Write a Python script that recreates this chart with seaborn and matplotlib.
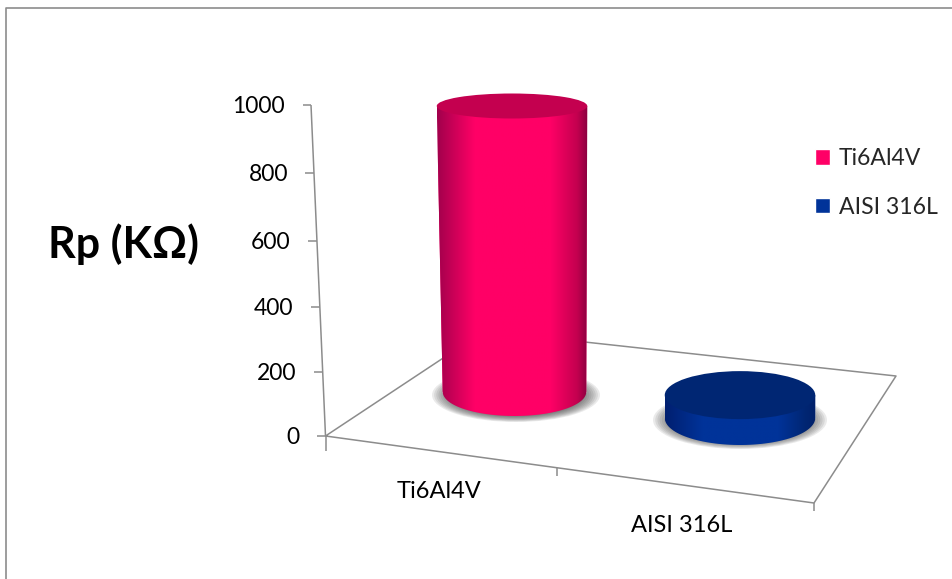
import numpy as np
import pandas as pd
import matplotlib.pyplot as plt
import seaborn as sns
from matplotlib.colors import LinearSegmentedColormap
from matplotlib.patches import Ellipse, PathPatch
from matplotlib.path import Path
from matplotlib.transforms import Affine2D

# values
categories = ['Ti6Al4V', 'AISI 316L']
rp_values = [1000, 80]
y_ticks = [0, 200, 400, 600, 800, 1000]

colors = ['#FF0066', '#003399']
top_colors = ['#C4004F', '#002673']
edge_left = ['#A2004C', '#001F70']
edge_right = ['#8A0040', '#00206A']
grid_color = '#8C8C8C'

W, H = 953, 579

sns.set_theme(style='white')
plt.rcParams['font.family'] = ['Lato', 'DejaVu Sans']

fig = plt.figure(figsize=(W / 100, H / 100), dpi=100)
ax = fig.add_axes([0, 0, 1, 1])

data = pd.DataFrame({'material': categories, 'rp': rp_values})
sns.barplot(data=data, x='material', y='rp', hue='material', palette=colors,
            saturation=1, width=0.66, ax=ax, legend=True, zorder=3)

# the whole figure is one axes, limits put the bars at the right pixels
x_first, x_step = 512, 228
y_base, y_scale = 392, 0.286
ax.set_xlim((0 - x_first) / x_step, (W - x_first) / x_step)
ax.set_ylim((y_base - H) / y_scale, y_base / y_scale)
ax.axis('off')

# pixel coordinates, y going down, for the fake 3D parts
px = Affine2D().scale(1, -1).translate(0, H)


def line(xs, ys, lw=1.1):
    ax.plot(xs, ys, color=grid_color, lw=lw, transform=px, zorder=1, solid_capstyle='butt')


# outer frame
line([6, 6, W], [H, 8, 8], lw=1.2)

# floor
corners_x = [325.5, 484, 896, 814, 325.5]
corners_y = [436, 331, 376, 503, 436]
line(corners_x, corners_y)
line([557, 557], [468, 476])
line([326, 326], [436, 451])
line([814, 814], [503, 511])


# y axis, slightly tilted and in perspective
def axis_point(v):
    t = v / 1000
    return 325.5 - 14.5 * t, 436 - 317 * t - 14 * t ** 2


top_x, top_y = axis_point(1000)
low_x, low_y = axis_point(0)
line([low_x, top_x], [low_y, top_y])
for v in y_ticks:
    tx, ty = axis_point(v)
    line([tx - 8.5, tx], [ty, ty])
    ax.text(tx - 26, ty + 1.5, str(v), transform=px, ha='right', va='center',
            fontsize=16.5, color='black')

ax.text(123, 244, 'Rp (KΩ)', transform=px, ha='center', va='center',
        fontsize=31, fontweight='bold', color='black')
ax.text(439, 492, categories[0], transform=px, ha='center', va='center', fontsize=17, color='black')
ax.text(682, 526, categories[1], transform=px, ha='center', va='center', fontsize=17, color='black')

# cylinder shapes for each bar
base_px = [392, 418]
top_semi = [12.5, 24]
base_semi = [24, 27]
inset_left = [6, 0]
inset_right = [1, 0]
shadow = [(516, 395, 84, 27), (740, 420, 87, 29)]

to_px = ax.transData + px.inverted()

for i, bar in enumerate(ax.patches[:2]):
    # bars stand on different places of the floor
    bar.set_y((y_base - base_px[i]) / y_scale)
    x0, y1 = to_px.transform((bar.get_x(), bar.get_y() + bar.get_height()))
    x1, y0 = to_px.transform((bar.get_x() + bar.get_width(), bar.get_y()))

    # soft shadow on the floor
    sx, sy, sa, sb = shadow[i]
    for k in np.linspace(1, 0.72, 12):
        ax.add_patch(Ellipse((sx, sy), 2 * sa * k, 2 * sb * k, transform=px,
                             fc='#383838', ec='none', alpha=0.1, zorder=2))

    # body outline, straight sides and lower half of the base ellipse
    bl, br = x0 + inset_left[i], x1 - inset_right[i]
    t = np.linspace(np.pi, 0, 60)
    arc_x = (bl + br) / 2 + (br - bl) / 2 * np.cos(t)
    arc_y = y0 + base_semi[i] * np.sin(t)
    verts = [(x0, y1)] + list(zip(arc_x, arc_y)) + [(x1, y1), (x0, y1)]
    body = PathPatch(Path(verts), transform=px, fc='none', ec='none')
    ax.add_patch(body)
    bar.set_clip_path(body)

    cmap = LinearSegmentedColormap.from_list('body', [
        (0, edge_left[i]), (0.25, colors[i]), (0.45, colors[i]), (0.75, colors[i]),
        (0.93, top_colors[i]), (1, edge_right[i])])
    grad = ax.imshow(np.linspace(0, 1, 256)[None, :], cmap=cmap, aspect='auto',
                     extent=(x0, x1, y0 + base_semi[i], y1), zorder=4,
                     interpolation='bilinear')
    grad.set_transform(px)
    grad.set_clip_path(body)

    ax.add_patch(Ellipse(((x0 + x1) / 2, y1), x1 - x0, 2 * top_semi[i], transform=px,
                         fc=top_colors[i], ec='none', zorder=5))

# imshow changes the limits
ax.set_xlim((0 - x_first) / x_step, (W - x_first) / x_step)
ax.set_ylim((y_base - H) / y_scale, y_base / y_scale)

sns.move_legend(ax, 'upper left', bbox_to_anchor=(815 / W, 1 - 148 / H),
                bbox_transform=fig.transFigure, frameon=False, title=None,
                fontsize=16.6, labelspacing=1.2, handlelength=0.66, handleheight=0.66,
                handletextpad=0.36, borderaxespad=0, borderpad=0)

fig.savefig('out.png', dpi=100, facecolor='white')
